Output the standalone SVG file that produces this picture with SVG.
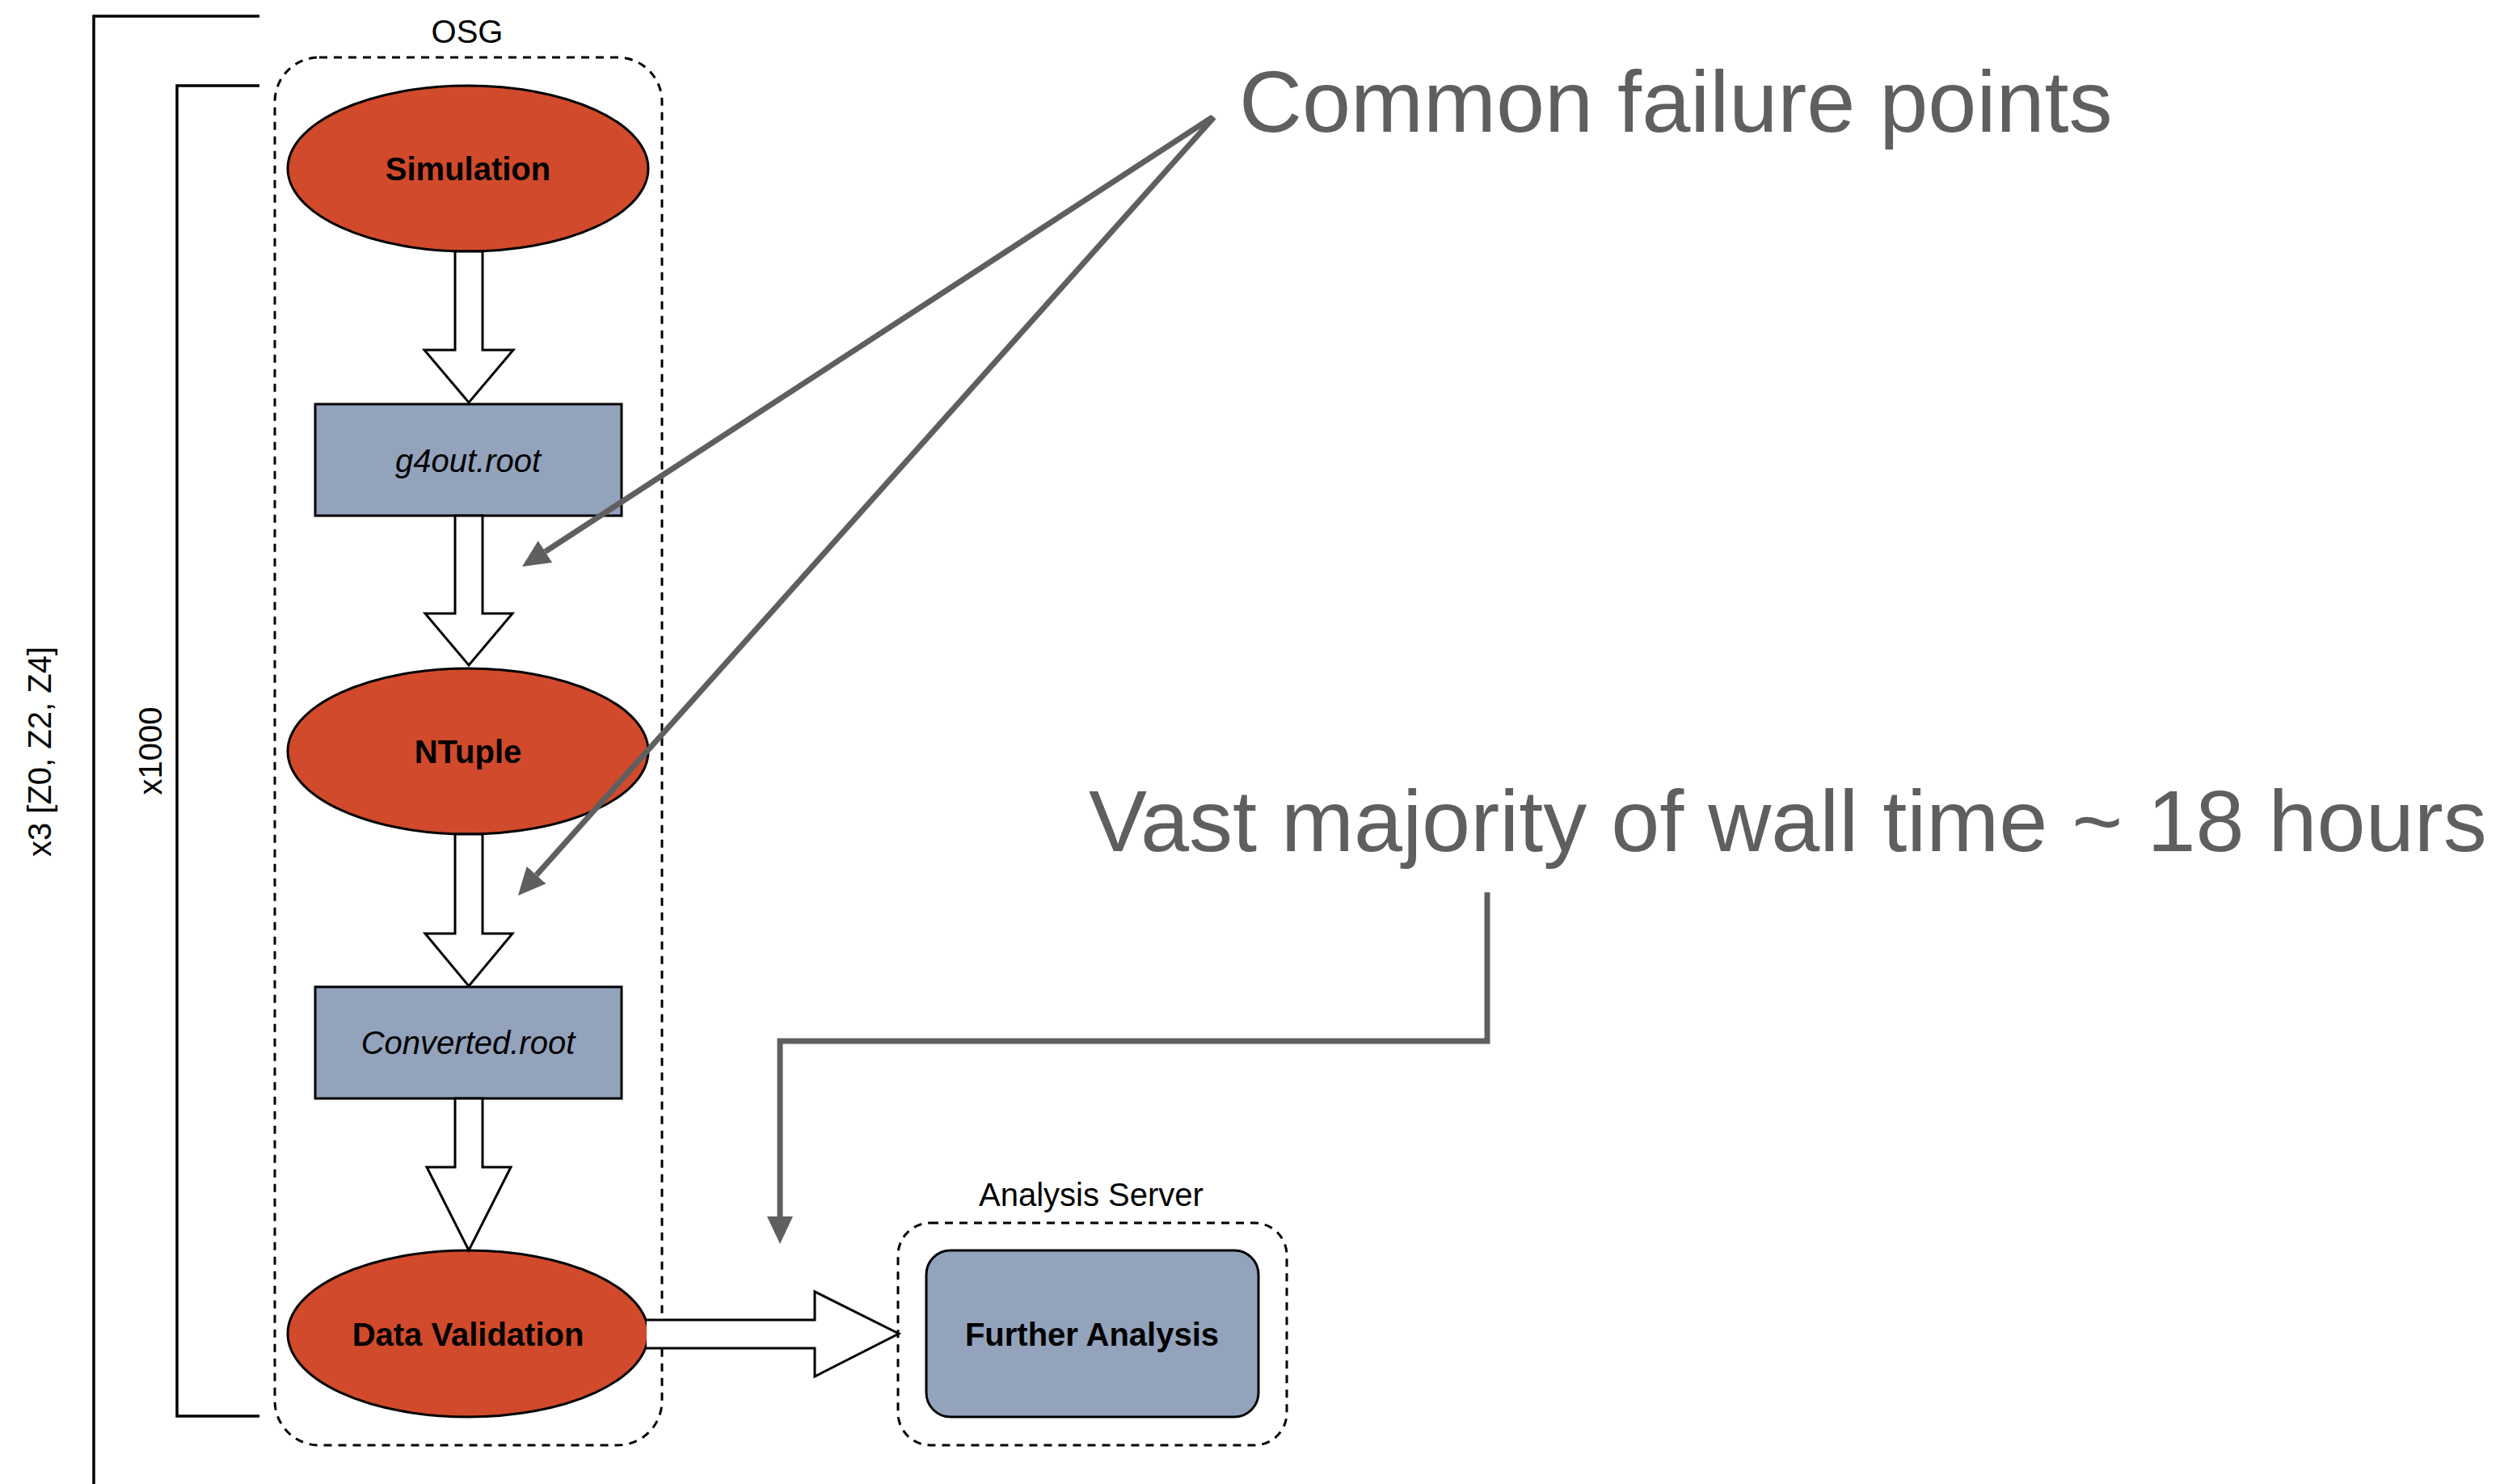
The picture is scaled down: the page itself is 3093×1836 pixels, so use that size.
<svg xmlns="http://www.w3.org/2000/svg" width="3093" height="1836" viewBox="0 0 3093 1836">
<style>
  text { font-family: "Liberation Sans", Arial, Helvetica, sans-serif; }
  .lbl { font-size: 40px; fill: #000; text-anchor: middle; }
  .bold { font-weight: bold; }
  .ital { font-style: italic; }
  .big { font-size: 108px; fill: #5f5f5f; }
  .proc { fill: #D14A2B; stroke: #000; stroke-width: 3; }
  .file { fill: #93A3BC; stroke: #000; stroke-width: 3; }
  .group { fill: none; stroke: #000; stroke-width: 3; stroke-dasharray: 10 8; }
  .bracket { fill: none; stroke: #000; stroke-width: 3.5; }
  .block { fill: #fff; stroke: #000; stroke-width: 3; stroke-linejoin: miter; }
  .note { fill: none; stroke: #5f5f5f; stroke-width: 7; stroke-linejoin: miter; }
</style>
<defs>
  <marker id="grayhead" viewBox="0 0 34 32" refX="0" refY="16" markerWidth="34" markerHeight="32" markerUnits="userSpaceOnUse" orient="auto">
    <path d="M0,0 L34,16 L0,32 z" fill="#5f5f5f"/>
  </marker>
</defs>
<rect width="3093" height="1836" fill="#fff"/>

<g id="brackets">
  <path class="bracket" d="M321,20 H116 V1836"/>
  <text class="lbl" transform="translate(63,930) rotate(-90)">x3 [Z0, Z2, Z4]</text>
  <path class="bracket" d="M321,106 H219 V1752 H321"/>
  <text class="lbl" transform="translate(200,929) rotate(-90)">x1000</text>
</g>

<g id="osg">
  <rect class="group" x="340" y="71" width="479" height="1717" rx="55" ry="55"/>
  <text class="lbl" x="578" y="53">OSG</text>
</g>

<g id="analysis-server">
  <rect class="group" x="1111" y="1513" width="481" height="275" rx="40" ry="40"/>
  <text class="lbl" x="1350" y="1492">Analysis Server</text>
</g>

<g id="simulation">
  <ellipse class="proc" cx="579" cy="208.5" rx="223" ry="102.5"/>
  <text class="lbl bold" x="579" y="223">Simulation</text>
</g>

<g id="g4out">
  <rect class="file" x="390" y="500" width="379" height="138"/>
  <text class="lbl ital" x="579" y="584">g4out.root</text>
</g>

<g id="ntuple">
  <ellipse class="proc" cx="579" cy="929.5" rx="223" ry="102.5"/>
  <text class="lbl bold" x="579" y="944">NTuple</text>
</g>

<g id="converted">
  <rect class="file" x="390" y="1221" width="379" height="138"/>
  <text class="lbl ital" x="579" y="1304">Converted.root</text>
</g>

<g id="data-validation">
  <ellipse class="proc" cx="579" cy="1650" rx="223" ry="103"/>
  <text class="lbl bold" x="579" y="1665">Data Validation</text>
</g>

<g id="further-analysis">
  <rect class="file" x="1146" y="1547" width="411" height="206" rx="30" ry="30"/>
  <text class="lbl bold" x="1351" y="1665">Further Analysis</text>
</g>

<g id="connectors">
  <path class="block" d="M563,311 V433 H525 L580,498 L635,433 H597 V311 Z"/>
  <path class="block" d="M563,638 V759 H526 L580,823 L634,759 H597 V638 Z"/>
  <path class="block" d="M563,1032 V1155 H526 L580,1220 L634,1155 H597 V1032 Z"/>
  <path class="block" d="M563,1359 V1444 H528 L580,1547 L632,1444 H597 V1359 Z"/>
  <path class="block" d="M800,1633 H1008 V1598 L1112,1650 L1008,1703 V1668 H800"/>
</g>

<g id="annotations">
  <text class="big" x="1533" y="163">Common failure points</text>
  <text class="big" x="1347" y="1053">Vast majority of wall time ~ 18 hours</text>
  <line class="note" x1="1500" y1="145" x2="674.5" y2="682.5" marker-end="url(#grayhead)"/>
  <line class="note" x1="1502" y1="145" x2="663.6" y2="1082.6" marker-end="url(#grayhead)"/>
  <path class="note" d="M1840,1104 V1288 H965 V1505" marker-end="url(#grayhead)"/>
</g>
</svg>
